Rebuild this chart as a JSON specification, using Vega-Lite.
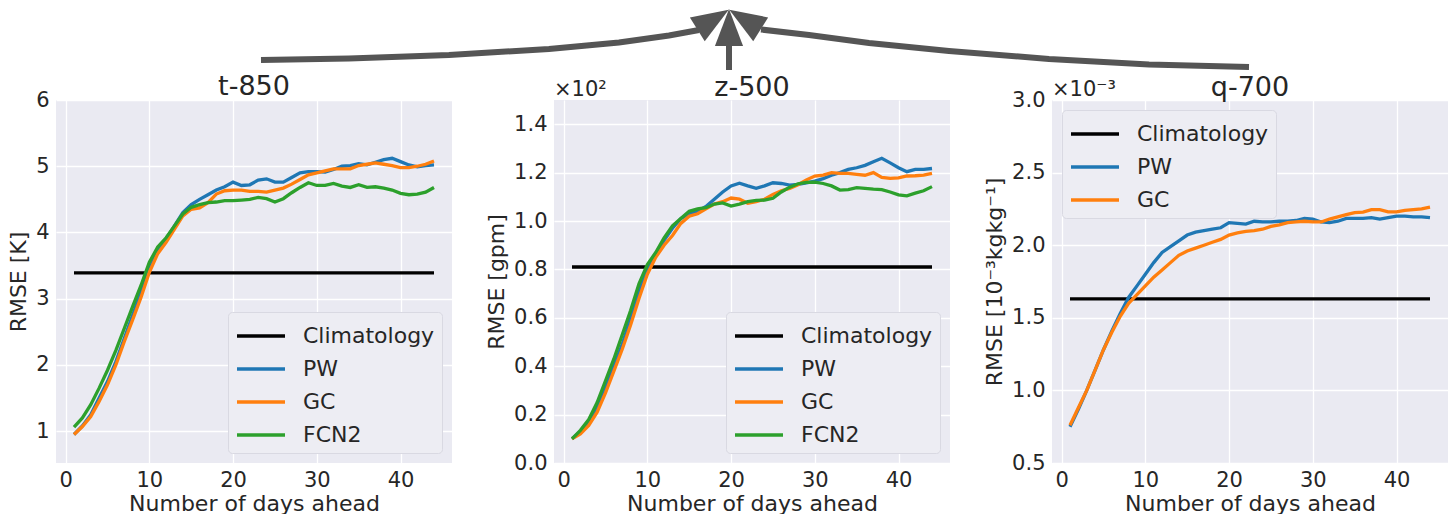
{
  "$schema": "https://vega.github.io/schema/vega-lite/v6.json",
  "padding": {"left": 7, "top": 0, "right": 0, "bottom": 0},
  "background": "white",
  "bounds": "flush",
  "spacing": 28,
  "datasets": {
    "arrows": [
      {"arrow": "left", "i": 0, "x": 262, "y": 60},
      {"arrow": "left", "i": 1, "x": 350, "y": 58.5},
      {"arrow": "left", "i": 2, "x": 450, "y": 55},
      {"arrow": "left", "i": 3, "x": 550, "y": 49},
      {"arrow": "left", "i": 4, "x": 620, "y": 42.5},
      {"arrow": "left", "i": 5, "x": 670, "y": 35.5},
      {"arrow": "left", "i": 6, "x": 700, "y": 30},
      {"arrow": "middle", "i": 0, "x": 730, "y": 70},
      {"arrow": "middle", "i": 1, "x": 730, "y": 46},
      {"arrow": "right", "i": 0, "x": 1250, "y": 67},
      {"arrow": "right", "i": 1, "x": 1150, "y": 64.5},
      {"arrow": "right", "i": 2, "x": 1050, "y": 59},
      {"arrow": "right", "i": 3, "x": 950, "y": 51},
      {"arrow": "right", "i": 4, "x": 870, "y": 43},
      {"arrow": "right", "i": 5, "x": 810, "y": 35},
      {"arrow": "right", "i": 6, "x": 762, "y": 29.5}
    ],
    "heads": [
      {"arrow": "left", "x": 714, "y": 19.5, "angle": 58},
      {"arrow": "middle", "x": 730, "y": 27.5, "angle": 0},
      {"arrow": "right", "x": 746, "y": 19.5, "angle": 302}
    ],
    "t850": [
      {"day": 1, "Climatology": 3.39, "PW": 0.95, "GC": 0.95, "FCN2": 1.06},
      {"day": 2, "Climatology": 3.39, "PW": 1.08, "GC": 1.07, "FCN2": 1.2},
      {"day": 3, "Climatology": 3.39, "PW": 1.25, "GC": 1.22, "FCN2": 1.4},
      {"day": 4, "Climatology": 3.39, "PW": 1.5, "GC": 1.45, "FCN2": 1.65},
      {"day": 5, "Climatology": 3.39, "PW": 1.75, "GC": 1.7, "FCN2": 1.92},
      {"day": 6, "Climatology": 3.39, "PW": 2.05, "GC": 2.0, "FCN2": 2.22},
      {"day": 7, "Climatology": 3.39, "PW": 2.4, "GC": 2.35, "FCN2": 2.55},
      {"day": 8, "Climatology": 3.39, "PW": 2.75, "GC": 2.68, "FCN2": 2.88},
      {"day": 9, "Climatology": 3.39, "PW": 3.1, "GC": 3.02, "FCN2": 3.2},
      {"day": 10, "Climatology": 3.39, "PW": 3.45, "GC": 3.4, "FCN2": 3.55},
      {"day": 11, "Climatology": 3.39, "PW": 3.72, "GC": 3.68, "FCN2": 3.78},
      {"day": 12, "Climatology": 3.39, "PW": 3.9, "GC": 3.85, "FCN2": 3.92},
      {"day": 13, "Climatology": 3.39, "PW": 4.1, "GC": 4.05, "FCN2": 4.1},
      {"day": 14, "Climatology": 3.39, "PW": 4.3, "GC": 4.25, "FCN2": 4.28},
      {"day": 15, "Climatology": 3.39, "PW": 4.42, "GC": 4.35, "FCN2": 4.38},
      {"day": 16, "Climatology": 3.39, "PW": 4.5, "GC": 4.37, "FCN2": 4.42},
      {"day": 17, "Climatology": 3.39, "PW": 4.57, "GC": 4.45, "FCN2": 4.45},
      {"day": 18, "Climatology": 3.39, "PW": 4.64, "GC": 4.58, "FCN2": 4.46},
      {"day": 19, "Climatology": 3.39, "PW": 4.69, "GC": 4.63, "FCN2": 4.48},
      {"day": 20, "Climatology": 3.39, "PW": 4.76, "GC": 4.64, "FCN2": 4.48},
      {"day": 21, "Climatology": 3.39, "PW": 4.71, "GC": 4.64, "FCN2": 4.49},
      {"day": 22, "Climatology": 3.39, "PW": 4.72, "GC": 4.62, "FCN2": 4.5},
      {"day": 23, "Climatology": 3.39, "PW": 4.79, "GC": 4.62, "FCN2": 4.53},
      {"day": 24, "Climatology": 3.39, "PW": 4.81, "GC": 4.61, "FCN2": 4.51},
      {"day": 25, "Climatology": 3.39, "PW": 4.76, "GC": 4.64, "FCN2": 4.46},
      {"day": 26, "Climatology": 3.39, "PW": 4.76, "GC": 4.67, "FCN2": 4.51},
      {"day": 27, "Climatology": 3.39, "PW": 4.83, "GC": 4.73, "FCN2": 4.6},
      {"day": 28, "Climatology": 3.39, "PW": 4.9, "GC": 4.8, "FCN2": 4.68},
      {"day": 29, "Climatology": 3.39, "PW": 4.92, "GC": 4.87, "FCN2": 4.75},
      {"day": 30, "Climatology": 3.39, "PW": 4.92, "GC": 4.9, "FCN2": 4.71},
      {"day": 31, "Climatology": 3.39, "PW": 4.91, "GC": 4.93, "FCN2": 4.71},
      {"day": 32, "Climatology": 3.39, "PW": 4.95, "GC": 4.96, "FCN2": 4.74},
      {"day": 33, "Climatology": 3.39, "PW": 5.0, "GC": 4.96, "FCN2": 4.7},
      {"day": 34, "Climatology": 3.39, "PW": 5.01, "GC": 4.96, "FCN2": 4.68},
      {"day": 35, "Climatology": 3.39, "PW": 5.04, "GC": 5.01, "FCN2": 4.72},
      {"day": 36, "Climatology": 3.39, "PW": 5.02, "GC": 5.03, "FCN2": 4.68},
      {"day": 37, "Climatology": 3.39, "PW": 5.06, "GC": 5.05, "FCN2": 4.69},
      {"day": 38, "Climatology": 3.39, "PW": 5.1, "GC": 5.03, "FCN2": 4.67},
      {"day": 39, "Climatology": 3.39, "PW": 5.12, "GC": 5.01, "FCN2": 4.64},
      {"day": 40, "Climatology": 3.39, "PW": 5.07, "GC": 4.98, "FCN2": 4.59},
      {"day": 41, "Climatology": 3.39, "PW": 5.02, "GC": 4.98, "FCN2": 4.57},
      {"day": 42, "Climatology": 3.39, "PW": 4.99, "GC": 5.0, "FCN2": 4.58},
      {"day": 43, "Climatology": 3.39, "PW": 5.01, "GC": 5.03, "FCN2": 4.61},
      {"day": 44, "Climatology": 3.39, "PW": 5.02, "GC": 5.08, "FCN2": 4.68}
    ],
    "z500": [
      {"day": 1, "Climatology": 0.81, "PW": 0.1, "GC": 0.1, "FCN2": 0.1},
      {"day": 2, "Climatology": 0.81, "PW": 0.13, "GC": 0.12, "FCN2": 0.135},
      {"day": 3, "Climatology": 0.81, "PW": 0.17, "GC": 0.155, "FCN2": 0.18},
      {"day": 4, "Climatology": 0.81, "PW": 0.23, "GC": 0.21, "FCN2": 0.25},
      {"day": 5, "Climatology": 0.81, "PW": 0.31, "GC": 0.29, "FCN2": 0.34},
      {"day": 6, "Climatology": 0.81, "PW": 0.4, "GC": 0.38, "FCN2": 0.43},
      {"day": 7, "Climatology": 0.81, "PW": 0.49, "GC": 0.47, "FCN2": 0.53},
      {"day": 8, "Climatology": 0.81, "PW": 0.6, "GC": 0.57, "FCN2": 0.63},
      {"day": 9, "Climatology": 0.81, "PW": 0.71, "GC": 0.68, "FCN2": 0.74},
      {"day": 10, "Climatology": 0.81, "PW": 0.8, "GC": 0.78, "FCN2": 0.82},
      {"day": 11, "Climatology": 0.81, "PW": 0.86, "GC": 0.85, "FCN2": 0.87},
      {"day": 12, "Climatology": 0.81, "PW": 0.92, "GC": 0.9, "FCN2": 0.93},
      {"day": 13, "Climatology": 0.81, "PW": 0.97, "GC": 0.94, "FCN2": 0.98},
      {"day": 14, "Climatology": 0.81, "PW": 1.01, "GC": 0.99, "FCN2": 1.01},
      {"day": 15, "Climatology": 0.81, "PW": 1.03, "GC": 1.02, "FCN2": 1.04},
      {"day": 16, "Climatology": 0.81, "PW": 1.04, "GC": 1.03, "FCN2": 1.05},
      {"day": 17, "Climatology": 0.81, "PW": 1.06, "GC": 1.05, "FCN2": 1.055},
      {"day": 18, "Climatology": 0.81, "PW": 1.09, "GC": 1.07, "FCN2": 1.07},
      {"day": 19, "Climatology": 0.81, "PW": 1.12, "GC": 1.08, "FCN2": 1.075},
      {"day": 20, "Climatology": 0.81, "PW": 1.145, "GC": 1.095, "FCN2": 1.062},
      {"day": 21, "Climatology": 0.81, "PW": 1.156, "GC": 1.09, "FCN2": 1.07},
      {"day": 22, "Climatology": 0.81, "PW": 1.145, "GC": 1.073, "FCN2": 1.08},
      {"day": 23, "Climatology": 0.81, "PW": 1.135, "GC": 1.08, "FCN2": 1.085},
      {"day": 24, "Climatology": 0.81, "PW": 1.145, "GC": 1.09, "FCN2": 1.086},
      {"day": 25, "Climatology": 0.81, "PW": 1.158, "GC": 1.11, "FCN2": 1.094},
      {"day": 26, "Climatology": 0.81, "PW": 1.155, "GC": 1.125, "FCN2": 1.12},
      {"day": 27, "Climatology": 0.81, "PW": 1.148, "GC": 1.135, "FCN2": 1.14},
      {"day": 28, "Climatology": 0.81, "PW": 1.151, "GC": 1.15, "FCN2": 1.154},
      {"day": 29, "Climatology": 0.81, "PW": 1.158, "GC": 1.17, "FCN2": 1.16},
      {"day": 30, "Climatology": 0.81, "PW": 1.165, "GC": 1.186, "FCN2": 1.161},
      {"day": 31, "Climatology": 0.81, "PW": 1.175, "GC": 1.19, "FCN2": 1.155},
      {"day": 32, "Climatology": 0.81, "PW": 1.189, "GC": 1.2, "FCN2": 1.145},
      {"day": 33, "Climatology": 0.81, "PW": 1.2, "GC": 1.197, "FCN2": 1.128},
      {"day": 34, "Climatology": 0.81, "PW": 1.213, "GC": 1.197, "FCN2": 1.13},
      {"day": 35, "Climatology": 0.81, "PW": 1.22, "GC": 1.193, "FCN2": 1.138},
      {"day": 36, "Climatology": 0.81, "PW": 1.23, "GC": 1.189, "FCN2": 1.135},
      {"day": 37, "Climatology": 0.81, "PW": 1.245, "GC": 1.2, "FCN2": 1.132},
      {"day": 38, "Climatology": 0.81, "PW": 1.259, "GC": 1.18, "FCN2": 1.13},
      {"day": 39, "Climatology": 0.81, "PW": 1.24, "GC": 1.176, "FCN2": 1.12},
      {"day": 40, "Climatology": 0.81, "PW": 1.22, "GC": 1.178, "FCN2": 1.108},
      {"day": 41, "Climatology": 0.81, "PW": 1.204, "GC": 1.186, "FCN2": 1.104},
      {"day": 42, "Climatology": 0.81, "PW": 1.213, "GC": 1.187, "FCN2": 1.115},
      {"day": 43, "Climatology": 0.81, "PW": 1.213, "GC": 1.19, "FCN2": 1.125},
      {"day": 44, "Climatology": 0.81, "PW": 1.217, "GC": 1.197, "FCN2": 1.142}
    ],
    "q700": [
      {"day": 1, "Climatology": 1.63, "PW": 0.75, "GC": 0.76},
      {"day": 2, "Climatology": 1.63, "PW": 0.87, "GC": 0.88},
      {"day": 3, "Climatology": 1.63, "PW": 1.0, "GC": 1.0},
      {"day": 4, "Climatology": 1.63, "PW": 1.14, "GC": 1.14},
      {"day": 5, "Climatology": 1.63, "PW": 1.28, "GC": 1.28},
      {"day": 6, "Climatology": 1.63, "PW": 1.41, "GC": 1.4},
      {"day": 7, "Climatology": 1.63, "PW": 1.53, "GC": 1.51},
      {"day": 8, "Climatology": 1.63, "PW": 1.64, "GC": 1.6},
      {"day": 9, "Climatology": 1.63, "PW": 1.72, "GC": 1.66},
      {"day": 10, "Climatology": 1.63, "PW": 1.8, "GC": 1.72},
      {"day": 11, "Climatology": 1.63, "PW": 1.88, "GC": 1.78},
      {"day": 12, "Climatology": 1.63, "PW": 1.95, "GC": 1.83},
      {"day": 13, "Climatology": 1.63, "PW": 1.99, "GC": 1.88},
      {"day": 14, "Climatology": 1.63, "PW": 2.03, "GC": 1.93},
      {"day": 15, "Climatology": 1.63, "PW": 2.07, "GC": 1.96},
      {"day": 16, "Climatology": 1.63, "PW": 2.09, "GC": 1.98},
      {"day": 17, "Climatology": 1.63, "PW": 2.1, "GC": 2.0},
      {"day": 18, "Climatology": 1.63, "PW": 2.11, "GC": 2.02},
      {"day": 19, "Climatology": 1.63, "PW": 2.12, "GC": 2.04},
      {"day": 20, "Climatology": 1.63, "PW": 2.155, "GC": 2.07},
      {"day": 21, "Climatology": 1.63, "PW": 2.15, "GC": 2.085},
      {"day": 22, "Climatology": 1.63, "PW": 2.145, "GC": 2.095},
      {"day": 23, "Climatology": 1.63, "PW": 2.165, "GC": 2.1},
      {"day": 24, "Climatology": 1.63, "PW": 2.16, "GC": 2.11},
      {"day": 25, "Climatology": 1.63, "PW": 2.16, "GC": 2.13},
      {"day": 26, "Climatology": 1.63, "PW": 2.165, "GC": 2.14},
      {"day": 27, "Climatology": 1.63, "PW": 2.165, "GC": 2.155},
      {"day": 28, "Climatology": 1.63, "PW": 2.17, "GC": 2.16},
      {"day": 29, "Climatology": 1.63, "PW": 2.185, "GC": 2.165},
      {"day": 30, "Climatology": 1.63, "PW": 2.18, "GC": 2.16},
      {"day": 31, "Climatology": 1.63, "PW": 2.16, "GC": 2.16},
      {"day": 32, "Climatology": 1.63, "PW": 2.155, "GC": 2.18},
      {"day": 33, "Climatology": 1.63, "PW": 2.165, "GC": 2.195},
      {"day": 34, "Climatology": 1.63, "PW": 2.185, "GC": 2.21},
      {"day": 35, "Climatology": 1.63, "PW": 2.185, "GC": 2.225},
      {"day": 36, "Climatology": 1.63, "PW": 2.185, "GC": 2.228},
      {"day": 37, "Climatology": 1.63, "PW": 2.19, "GC": 2.245},
      {"day": 38, "Climatology": 1.63, "PW": 2.18, "GC": 2.245},
      {"day": 39, "Climatology": 1.63, "PW": 2.19, "GC": 2.23},
      {"day": 40, "Climatology": 1.63, "PW": 2.2, "GC": 2.23},
      {"day": 41, "Climatology": 1.63, "PW": 2.2, "GC": 2.24},
      {"day": 42, "Climatology": 1.63, "PW": 2.195, "GC": 2.245},
      {"day": 43, "Climatology": 1.63, "PW": 2.195, "GC": 2.25},
      {"day": 44, "Climatology": 1.63, "PW": 2.19, "GC": 2.262}
    ]
  },
  "config": {
    "font": "DejaVu Sans",
    "view": {"fill": "#EAEAF2", "stroke": null},
    "axis": {
      "grid": true, "gridColor": "#ffffff", "gridWidth": 1.3, "domain": false, "ticks": false,
      "labelFontSize": 21, "labelColor": "#262626", "labelPadding": 7, "labelFlush": false,
      "titleFontSize": 22, "titleColor": "#262626", "titleFontWeight": "normal"
    },
    "axisY": {"titlePadding": 5},
    "axisX": {"labelPadding": 6, "titlePadding": 3},
    "title": {"fontSize": 27, "fontWeight": "normal", "color": "#262626"},
    "legend": {
      "symbolType": "M-1.6,0L1.6,0", "symbolSize": 900, "symbolStrokeWidth": 3.3, "symbolOffset": 9,
      "labelFontSize": 22, "labelColor": "#262626", "labelOffset": 25,
      "padding": 7, "rowPadding": 5, "fillColor": "#EDEDF3", "strokeColor": "#D9D9E2",
      "cornerRadius": 4, "title": null, "offset": 10
    }
  },
  "vconcat": [
    {
      "width": 1394,
      "height": 72,
      "view": {"fill": null, "stroke": null},
      "layer": [
        {
          "data": {"name": "arrows"},
          "mark": {"type": "line", "color": "#555555", "strokeWidth": 6, "strokeCap": "butt"},
          "encoding": {
            "x": {"field": "x", "type": "quantitative", "scale": {"domain": [57, 1451], "nice": false, "zero": false}, "axis": null},
            "y": {"field": "y", "type": "quantitative", "scale": {"domain": [0, 72], "reverse": true, "nice": false, "zero": false}, "axis": null},
            "detail": {"field": "arrow"},
            "order": {"field": "i", "type": "quantitative"}
          }
        },
        {
          "data": {"name": "heads"},
          "mark": {"type": "point", "filled": true, "opacity": 1, "color": "#555555", "size": 1369, "shape": "M0,-1L0.76,1L-0.76,1Z"},
          "encoding": {
            "x": {"field": "x", "type": "quantitative"},
            "y": {"field": "y", "type": "quantitative"},
            "angle": {"field": "angle", "type": "quantitative", "scale": null}
          }
        }
      ]
    },
    {
      "bounds": "flush",
      "spacing": 102,
      "resolve": {"scale": {"color": "independent", "x": "independent", "y": "independent"}, "legend": {"color": "independent"}},
      "hconcat": [
        {
          "width": 396, "height": 363,
          "title": {"text": "t-850", "offset": -12},
          "data": {"name": "t850"},
          "transform": [{"fold": ["Climatology", "PW", "GC", "FCN2"], "as": ["model", "rmse"]}],
          "mark": {"type": "line", "strokeWidth": 3.3},
          "encoding": {
            "x": {"field": "day", "type": "quantitative", "scale": {"domain": [-1.15, 46.15], "nice": false, "zero": false},
                  "axis": {"title": "Number of days ahead", "values": [0, 10, 20, 30, 40]}},
            "y": {"field": "rmse", "type": "quantitative", "scale": {"domain": [0.52, 6], "nice": false, "zero": false},
                  "axis": {"title": "RMSE [K]", "values": [1, 2, 3, 4, 5, 6], "format": "d"}},
            "color": {"field": "model", "type": "nominal",
                      "scale": {"domain": ["Climatology", "PW", "GC", "FCN2"], "range": ["#000000", "#1f77b4", "#ff7f0e", "#2ca02c"]},
                      "legend": {"orient": "bottom-right", "offset": 10}}
          }
        },
        {
          "width": 396, "height": 363,
          "title": {"text": "z-500", "offset": -23},
          "layer": [
            {
              "data": {"name": "z500"},
              "transform": [{"fold": ["Climatology", "PW", "GC", "FCN2"], "as": ["model", "rmse"]}],
              "mark": {"type": "line", "strokeWidth": 3.3},
              "encoding": {
                "x": {"field": "day", "type": "quantitative", "scale": {"domain": [-1.15, 46.15], "nice": false, "zero": false},
                      "axis": {"title": "Number of days ahead", "values": [0, 10, 20, 30, 40]}},
                "y": {"field": "rmse", "type": "quantitative", "scale": {"domain": [0, 1.5], "nice": false},
                      "axis": {"title": "RMSE [gpm]", "values": [0, 0.2, 0.4, 0.6, 0.8, 1.0, 1.2, 1.4], "format": ".1f"}},
                "color": {"field": "model", "type": "nominal",
                          "scale": {"domain": ["Climatology", "PW", "GC", "FCN2"], "range": ["#000000", "#1f77b4", "#ff7f0e", "#2ca02c"]},
                          "legend": {"orient": "bottom-right", "offset": 10}}
              }
            },
            {
              "data": {"values": [{"label": "×10²"}]},
              "mark": {"type": "text", "align": "left", "baseline": "bottom", "dy": 0, "fontSize": 21, "color": "#262626"},
              "encoding": {
                "x": {"datum": -1.15, "type": "quantitative"},
                "y": {"datum": 1.5, "type": "quantitative"},
                "text": {"field": "label"}
              }
            }
          ]
        },
        {
          "width": 396, "height": 363,
          "title": {"text": "q-700", "offset": -23},
          "layer": [
            {
              "data": {"name": "q700"},
              "transform": [{"fold": ["Climatology", "PW", "GC"], "as": ["model", "rmse"]}],
              "mark": {"type": "line", "strokeWidth": 3.3},
              "encoding": {
                "x": {"field": "day", "type": "quantitative", "scale": {"domain": [-1.15, 46.15], "nice": false, "zero": false},
                      "axis": {"title": "Number of days ahead", "values": [0, 10, 20, 30, 40]}},
                "y": {"field": "rmse", "type": "quantitative", "scale": {"domain": [0.5, 3.0], "nice": false, "zero": false},
                      "axis": {"title": "RMSE [10⁻³kgkg⁻¹]", "values": [0.5, 1.0, 1.5, 2.0, 2.5, 3.0], "format": ".1f"}},
                "color": {"field": "model", "type": "nominal",
                          "scale": {"domain": ["Climatology", "PW", "GC"], "range": ["#000000", "#1f77b4", "#ff7f0e"]},
                          "legend": {"orient": "top-left", "offset": 10}}
              }
            },
            {
              "data": {"values": [{"label": "×10⁻³"}]},
              "mark": {"type": "text", "align": "left", "baseline": "bottom", "dy": 0, "fontSize": 21, "color": "#262626"},
              "encoding": {
                "x": {"datum": -1.15, "type": "quantitative"},
                "y": {"datum": 3.0, "type": "quantitative"},
                "text": {"field": "label"}
              }
            }
          ]
        }
      ]
    }
  ]
}
